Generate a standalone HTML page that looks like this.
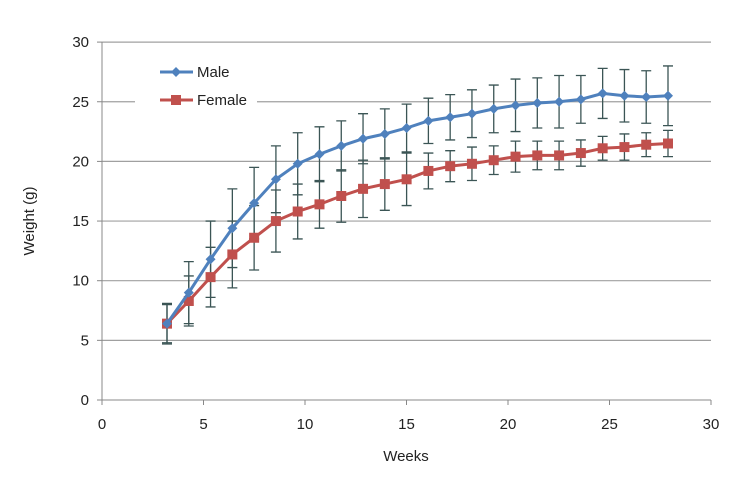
<!DOCTYPE html><html><head><style>body{margin:0;background:#fff}svg{display:block}text{font-family:"Liberation Sans",sans-serif;font-size:15px;fill:#222}</style></head><body>
<svg id="s" width="740" height="488" xmlns="http://www.w3.org/2000/svg"></svg>
<script>
const s=document.getElementById('s');let h='';
const X0=167,DX=21.9,Y=v=>400-v*11.93,XA=w=>102+w*20.3;
for(let v=5;v<=30;v+=5)h+=`<line x1="102" x2="711" y1="${Y(v)}" y2="${Y(v)}" stroke="#a0a0a0" stroke-width="1.2"/>`;
h+=`<rect x="135" y="60" width="122" height="52" fill="#fff"/>`;
h+=`<line x1="102" x2="102" y1="42" y2="400" stroke="#888"/><line x1="102" x2="711" y1="400" y2="400" stroke="#888"/>`;
for(let v=0;v<=30;v+=5){h+=`<text x="89" y="${Y(v)+5}" text-anchor="end">${v}</text>`;h+=`<text x="${XA(v)}" y="429" text-anchor="middle">${v}</text><line x1="${XA(v)}" x2="${XA(v)}" y1="400" y2="405" stroke="#888"/>`;}
for(let v=0;v<=30;v+=5)h+=`<line x1="97" x2="102" y1="${Y(v)}" y2="${Y(v)}" stroke="#888"/>`;
h+=`<text x="406" y="461" text-anchor="middle">Weeks</text><text transform="translate(34,221) rotate(-90)" text-anchor="middle">Weight (g)</text>`;
const m=[6.4,9.0,11.8,14.4,16.5,18.5,19.8,20.6,21.3,21.9,22.3,22.8,23.4,23.7,24.0,24.4,24.7,24.9,25.0,25.2,25.7,25.5,25.4,25.5];
const f=[6.4,8.3,10.3,12.2,13.6,15.0,15.8,16.4,17.1,17.7,18.1,18.5,19.2,19.6,19.8,20.1,20.4,20.5,20.5,20.7,21.1,21.2,21.4,21.5];
const me=[1.7,2.6,3.2,3.3,3.0,2.8,2.6,2.3,2.1,2.1,2.1,2.0,1.9,1.9,2.0,2.0,2.2,2.1,2.2,2.0,2.1,2.2,2.2,2.5];
const fe=[1.6,2.1,2.5,2.8,2.7,2.6,2.3,2.0,2.2,2.4,2.2,2.2,1.5,1.3,1.4,1.2,1.3,1.2,1.2,1.1,1.0,1.1,1.0,1.1];
const px=i=>X0+i*(668-X0)/23;
function eb(a,e){a.forEach((v,i)=>{const x=px(i),t=Y(v+e[i]),b=Y(v-e[i]);h+=`<path d="M${x} ${t}V${b}M${x-5} ${t}h10M${x-5} ${b}h10" stroke="#3b5555" stroke-width="1.3" fill="none"/>`;});}
eb(m,me);eb(f,fe);
h+=`<polyline fill="none" stroke="#c0504d" stroke-width="3" points="${f.map((v,i)=>px(i)+','+Y(v)).join(' ')}"/>`;
f.forEach((v,i)=>h+=`<rect x="${px(i)-5}" y="${Y(v)-5}" width="10" height="10" fill="#c0504d"/>`);
h+=`<polyline fill="none" stroke="#4f81bd" stroke-width="3" points="${m.map((v,i)=>px(i)+','+Y(v)).join(' ')}"/>`;
m.forEach((v,i)=>{const x=px(i),y=Y(v);h+=`<path d="M${x} ${y-5}L${x+5} ${y}L${x} ${y+5}L${x-5} ${y}Z" fill="#4f81bd"/>`;});
h+=`<line x1="160" x2="193" y1="72" y2="72" stroke="#4f81bd" stroke-width="3"/><path d="M176 67L181 72L176 77L171 72Z" fill="#4f81bd"/><text x="197" y="77">Male</text>`;
h+=`<line x1="160" x2="193" y1="100" y2="100" stroke="#c0504d" stroke-width="3"/><rect x="171" y="95" width="10" height="10" fill="#c0504d"/><text x="197" y="105">Female</text>`;
s.innerHTML=h;
</script></body></html>
